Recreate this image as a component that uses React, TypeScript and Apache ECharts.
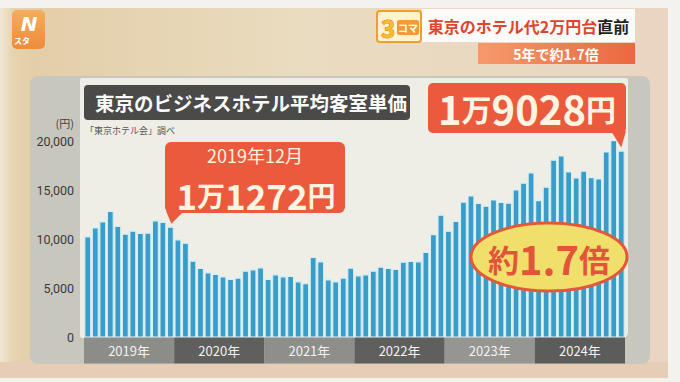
import React, { useEffect, useRef } from 'react';
import * as echarts from 'echarts';

const years = ['2019年', '2020年', '2021年', '2022年', '2023年', '2024年'];
const monthNames = ['1月', '2月', '3月', '4月', '5月', '6月', '7月', '8月', '9月', '10月', '11月', '12月'];
const categories = years.flatMap((y) => monthNames.map((m) => y + m));

// 東京のビジネスホテル平均客室単価 (円), Jan 2019 – Dec 2024
const rentValues = [
  10300, 11210, 11820, 12880, 11350, 10570, 10880, 10640, 10670, 11920, 11760, 11272,
  9990, 9650, 7825, 7080, 6635, 6470, 6230, 5960, 6100, 6810, 6940, 7140,
  5960, 6430, 6230, 6270, 5720, 5520, 8200, 7750, 5920, 5720, 6100, 7110,
  6330, 6430, 6810, 7210, 7080, 6980, 7720, 7790, 7750, 8700, 10530, 12500,
  10870, 11860, 13820, 14460, 13690, 13410, 14050, 13790, 13720, 15070, 15750, 16800,
  13990, 15350, 18090, 18530, 16900, 16290, 16970, 16330, 16190, 18930, 20090, 19028,
];

const yTickMin = 0;
const yTickMax = 20000;
const yTickStep = 5000;
const yearBandColors = ['#8c8c89', '#5f5f5d', '#8e8e8b', '#5f5f5d', '#959592', '#5c5c5a'];

const callout1Index = 11;
const callout1Date = '2019年12月';
const callout2Index = 71;

const JP = "'Noto Sans CJK JP', 'Noto Sans', sans-serif";
const CREAM = '#fdf4e2';
const RED = '#ec5a3d';

export default function App() {
  const ref = useRef<HTMLDivElement>(null);

  useEffect(() => {
    const el = ref.current!;
    const chart = echarts.init(el, null, { renderer: 'svg' });

    const txt = (id: string, x: number, y: number, text: string, extra: any = {}, z = 5) => ({
      id,
      type: 'text',
      x,
      y,
      z,
      style: {
        text,
        fontFamily: JP,
        textAlign: 'left',
        align: 'left',
        textVerticalAlign: 'middle',
        verticalAlign: 'middle',
        ...extra,
      },
    });

    const baseGraphics: any[] = [
      { id: 'bg0', type: 'rect', z: -20, shape: { x: 0, y: 0, width: 680, height: 382 }, style: { fill: '#f3f2ee' } },
      {
        id: 'bg1', type: 'rect', z: -19, shape: { x: 0, y: 8, width: 668, height: 370 },
        style: {
          fill: {
            type: 'linear', x: 0, y: 0, x2: 1, y2: 0,
            colorStops: [
              { offset: 0, color: '#efe7d4' },
              { offset: 0.02, color: '#e6d3af' },
              { offset: 0.05, color: '#e3cea8' },
              { offset: 0.45, color: '#eadcc0' },
              { offset: 1, color: '#ead5c2' },
            ],
          },
        },
      },
      { id: 'bg2', type: 'rect', z: -18, shape: { x: 0, y: 362, width: 668, height: 16 }, style: { fill: '#e6cdb5' } },
      { id: 'panel', type: 'rect', z: -17, shape: { x: 30, y: 76, width: 620, height: 288, r: 8 }, style: { fill: '#c8c7be' } },
      { id: 'plot', type: 'rect', z: -16, shape: { x: 80, y: 78, width: 548, height: 260, r: [2, 2, 6, 2] }, style: { fill: '#eeede6' } },

      // logo
      {
        id: 'logo', type: 'rect', z: 5, shape: { x: 12, y: 10, width: 33, height: 39, r: 5 },
        style: {
          fill: { type: 'linear', x: 0, y: 0, x2: 0, y2: 1, colorStops: [{ offset: 0, color: '#f4ad5c' }, { offset: 1, color: '#ee8b3c' }] },
        },
      },
      txt('logoN', 29, 24, 'N', { fill: '#ffffff', fontSize: 20, fontWeight: 'bold', fontStyle: 'italic', fontFamily: 'DejaVu Sans', textAlign: 'center', align: 'center' }),
      txt('logoS', 22, 40, 'スタ', { fill: '#ffffff', fontSize: 8, fontWeight: 'bold', textAlign: 'center', align: 'center' }),

      // 3コマ badge
      { id: 'badge', type: 'rect', z: 5, shape: { x: 377, y: 11, width: 44, height: 31, r: 3 }, style: { fill: '#fff3cf', stroke: '#f0a02a', lineWidth: 2 } },
      txt('badge3', 388, 27, '3', { fill: '#f7bb2c', stroke: '#e07a1a', lineWidth: 1, fontSize: 24, fontWeight: 'bold', textAlign: 'center', align: 'center' }),
      { id: 'badgeK', type: 'rect', z: 5, shape: { x: 397, y: 20, width: 22, height: 15, r: 2 }, style: { fill: '#f29a3a' } },
      txt('badgeKt', 408, 27.5, 'コマ', { fill: '#ffffff', fontSize: 10, fontWeight: 'bold', textAlign: 'center', align: 'center' }, 6),

      // headline
      { id: 'head', type: 'rect', z: 5, shape: { x: 422, y: 9, width: 213, height: 33 }, style: { fill: '#fbfbfa' } },
      txt('headT', 528.5, 26, '{r|東京のホテル代2万円台}{k|直前}', {
        textAlign: 'center', align: 'center',
        rich: {
          r: { fill: '#e2432b', fontSize: 16, fontWeight: 'bold', fontFamily: JP },
          k: { fill: '#222222', fontSize: 16, fontWeight: 'bold', fontFamily: JP },
        },
      }, 6),
      {
        id: 'sub', type: 'rect', z: 5, shape: { x: 478, y: 43, width: 157, height: 21 },
        style: { fill: { type: 'linear', x: 0, y: 0, x2: 1, y2: 0, colorStops: [{ offset: 0, color: '#f59a6c' }, { offset: 1, color: '#ea6840' }] } },
      },
      txt('subT', 556, 53.5, '5年で約1.7倍', { fill: '#ffffff', fontSize: 14, fontWeight: 'bold', textAlign: 'center', align: 'center' }, 6),

      // chart title
      { id: 'title', type: 'rect', z: 5, shape: { x: 84, y: 85, width: 326, height: 35, r: 4 }, style: { fill: '#4a4a48' } },
      txt('titleT', 95, 102.5, '東京のビジネスホテル平均客室単価', { fill: '#fafafa', fontSize: 19.5, fontWeight: 'bold' }, 6),
      txt('src', 85, 130, '「東京ホテル会」調べ', { fill: '#555555', fontSize: 9 }),
      txt('unit', 74, 123, '(円)', { fill: '#444444', fontSize: 11, textAlign: 'right', align: 'right' }),
    ];

    const option: any = {
      animation: false,
      grid: [
        { left: 84, right: 55, top: 141, bottom: 44.5, containLabel: false },
        { left: 84, right: 55, top: 337.5, height: 26, containLabel: false },
      ],
      xAxis: [
        { type: 'category', gridIndex: 0, data: categories, show: false },
        { type: 'category', gridIndex: 1, data: years, show: false },
      ],
      yAxis: [
        {
          type: 'value', gridIndex: 0, min: yTickMin, max: yTickMax, interval: yTickStep,
          axisLine: { show: false }, axisTick: { show: false }, splitLine: { show: false },
          axisLabel: {
            margin: 10, color: '#3a3a3a', fontSize: 12.5, fontFamily: 'Roboto',
            formatter: (v: number) => v.toLocaleString('en-US'),
          },
        },
        { type: 'value', gridIndex: 1, min: 0, max: 1, show: false },
      ],
      series: [
        {
          type: 'bar', xAxisIndex: 0, yAxisIndex: 0, data: rentValues, clip: false,
          barCategoryGap: '8%',
          itemStyle: { color: '#3a9cc9', borderColor: '#d3f0f5', borderWidth: 1.1 },
        },
        {
          type: 'bar', xAxisIndex: 1, yAxisIndex: 1, barCategoryGap: 0, barWidth: '100%',
          data: years.map((y, i) => ({ value: 1, itemStyle: { color: yearBandColors[i] } })),
          label: { show: true, position: 'inside', formatter: '{b}', color: '#f2f2f0', fontSize: 13, fontFamily: JP },
        },
      ],
      graphic: { elements: baseGraphics },
    };
    chart.setOption(option);

    const t1 = chart.convertToPixel({ xAxisIndex: 0, yAxisIndex: 0 }, [callout1Index, rentValues[callout1Index]]) as number[];
    const t2 = chart.convertToPixel({ xAxisIndex: 0, yAxisIndex: 0 }, [callout2Index, rentValues[callout2Index]]) as number[];
    const fmtMan = (v: number) => {
      const man = Math.floor(v / 10000);
      const rest = v % 10000;
      return `{d|${man}}{k|万}{d|${rest}}{k|円}`;
    };

    const calloutGraphics: any[] = [
      { id: 'c1', type: 'rect', z: 100, shape: { x: 165, y: 142, width: 180, height: 71, r: 6 }, style: { fill: RED } },
      { id: 'c1t', type: 'polygon', z: 100, shape: { points: [[166, 211], [184, 211], [t1[0] + 1, t1[1] - 3]] }, style: { fill: RED } },
      txt('c1a', 255, 155, callout1Date, { fill: CREAM, fontSize: 18, textAlign: 'center', align: 'center' }, 101),
      txt('c1b', 256, 194.5, fmtMan(rentValues[callout1Index]), {
        textAlign: 'center', align: 'center',
        rich: {
          d: { fill: CREAM, fontSize: 35, fontWeight: 'bold', fontFamily: JP },
          k: { fill: CREAM, fontSize: 28, fontWeight: 'bold', fontFamily: JP },
        },
      }, 101),

      { id: 'c2', type: 'rect', z: 100, shape: { x: 428, y: 83, width: 198, height: 50, r: 5 }, style: { fill: RED } },
      { id: 'c2t', type: 'polygon', z: 100, shape: { points: [[611, 131], [626, 131], [t2[0], t2[1] - 3]] }, style: { fill: RED } },
      txt('c2b', 527, 108, fmtMan(rentValues[callout2Index]), {
        textAlign: 'center', align: 'center',
        rich: {
          d: { fill: CREAM, fontSize: 40, fontWeight: 'bold', fontFamily: JP },
          k: { fill: CREAM, fontSize: 30, fontWeight: 'bold', fontFamily: JP },
        },
      }, 101),

      { id: 'ell', type: 'ellipse', z: 100, shape: { cx: 549, cy: 257, rx: 78, ry: 34 }, style: { fill: '#f1df6c', stroke: '#e4583a', lineWidth: 3 } },
      txt('ellT', 549, 258, '{a|約}{b|1.7}{a|倍}', {
        textAlign: 'center', align: 'center',
        rich: {
          a: { fill: '#e2553a', fontSize: 31, fontWeight: 'bold', fontFamily: JP },
          b: { fill: '#e2553a', fontSize: 40, fontWeight: 'bold', fontFamily: JP },
        },
      }, 101),
    ];
    chart.setOption({ graphic: { elements: calloutGraphics } });

    return () => chart.dispose();
  }, []);

  return <div ref={ref} style={{ position: 'absolute', left: 0, top: 0, width: 680, height: 382 }} />;
}
